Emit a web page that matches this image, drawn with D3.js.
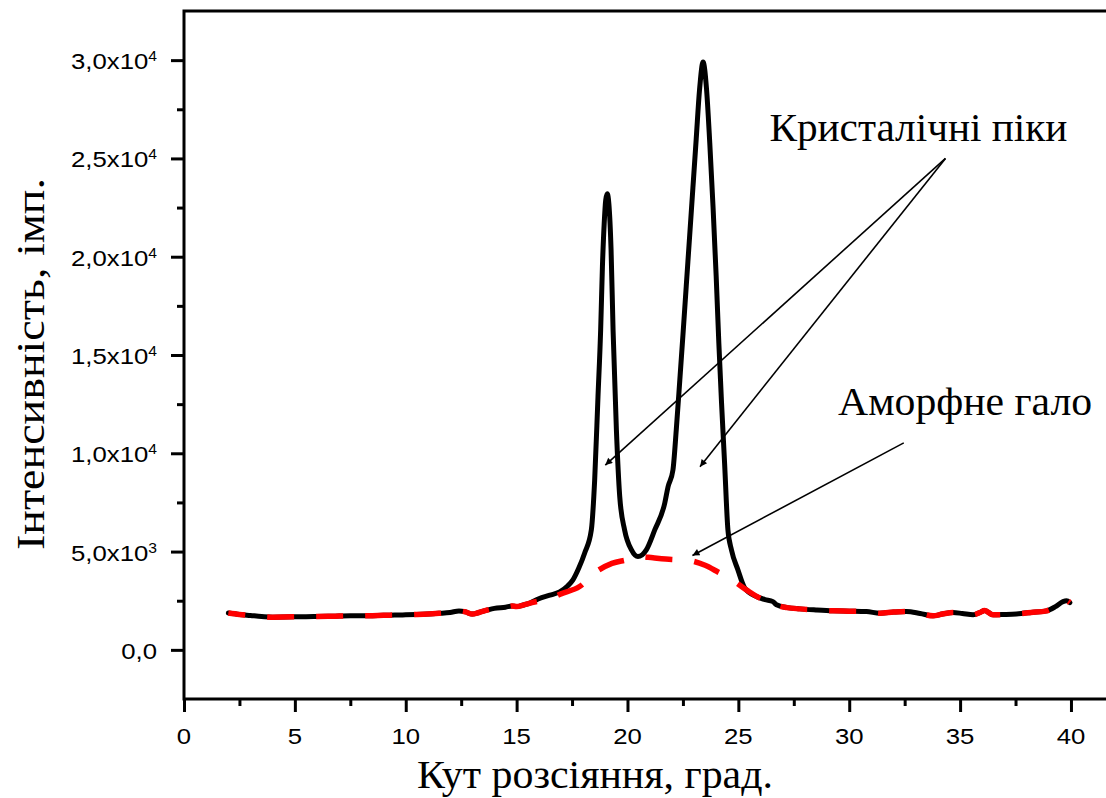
<!DOCTYPE html>
<html>
<head>
<meta charset="utf-8">
<script src="https://cdn.jsdelivr.net/npm/d3@7"></script>
<style>
  html, body { margin: 0; padding: 0; background: #fff; }
  svg { display: block; }
</style>
</head>
<body>
<svg id="chart" width="1106" height="798"></svg>
<script>
// Measured diffraction pattern (scattering angle, degrees -> intensity, counts)
const angle = [
  2.0, 2.5, 3.0, 3.5, 4.0, 4.5, 5.0, 5.5, 6.0, 6.5, 7.0, 7.5, 8.0, 8.5, 9.0, 9.5,
  10.0, 10.5, 11.0, 11.5, 12.0, 12.4, 12.7, 13.0, 13.3, 13.7, 14.0, 14.5, 14.8, 15.0,
  15.3, 15.6, 16.0, 16.5, 16.94, 17.3, 17.54, 17.8, 18.07, 18.37, 18.52, 18.67, 18.79,
  18.87, 18.95, 19.02, 19.09, 19.16, 19.26, 19.35, 19.5, 19.65, 19.87, 20.18, 20.47,
  20.85, 21.23, 21.68, 21.83, 22.05, 22.2, 22.36, 22.5, 22.65, 22.8, 22.95, 23.1,
  23.25, 23.41, 23.56, 23.71, 23.86, 24.0, 24.12, 24.24, 24.38, 24.53, 24.69, 24.98,
  25.29, 25.81, 26.2, 26.56, 26.72, 27.2, 27.77, 28.5, 29.27, 30.0, 30.78, 31.38, 32.0,
  32.58, 33.2, 33.78, 34.2, 34.68, 35.1, 35.59, 35.9, 36.11, 36.49, 37.0, 37.54, 38.2,
  38.9, 39.3, 39.64, 39.8, 39.95
];
const intensity = [
  1870, 1800, 1750, 1700, 1665, 1670, 1680, 1690, 1700, 1705, 1720, 1730, 1730, 1740, 1760, 1770,
  1780, 1800, 1830, 1860, 1900, 1980, 1930, 1820, 1900, 2030, 2110, 2170, 2230, 2200,
  2280, 2380, 2600, 2780, 2950, 3250, 3560, 4150, 4930, 6100, 8640, 12880, 16270,
  19500, 21700, 22900, 23200, 22700, 20340, 16270, 11190, 7800, 6100, 5085, 4745,
  5085, 6100, 7460, 8300, 9150, 11190, 13730, 16000, 18500, 21000, 23500, 26000,
  28500, 29900, 28600, 25800, 22500, 19000, 15600, 12600, 9490, 6100, 5085, 4070,
  3140, 2710, 2560, 2455, 2290, 2150, 2085, 2030, 1985, 1970, 1950, 1865, 1920,
  1950, 1850, 1730, 1820, 1900, 1850, 1780, 1900, 2000, 1780, 1800, 1830, 1900,
  1985, 2200, 2455, 2500, 2405
];

// Amorphous halo (background without the crystalline reflections)
const haloAngle = [
  2.0, 2.5, 3.0, 3.5, 4.0, 4.5, 5.0, 5.5, 6.0, 6.5, 7.0, 7.5, 8.0, 8.5, 9.0, 9.5,
  10.0, 10.5, 11.0, 11.5, 12.0, 12.4, 12.7, 13.0, 13.3, 13.7, 14.0, 14.5, 14.8, 15.0,
  15.3, 15.6, 16.0, 16.34, 17.0, 17.84, 18.6, 19.3, 19.95, 20.55, 21.15, 22.0, 22.6,
  23.5, 24.1, 24.61, 25.36, 26.0, 26.56, 26.72, 27.2, 27.77, 28.5, 29.27, 30.0, 30.78,
  31.38, 32.0, 32.58, 33.2, 33.78, 34.2, 34.68, 35.1, 35.59, 35.9, 36.11, 36.49, 37.0,
  37.54, 38.2, 38.9, 39.3, 39.64, 39.8, 39.95
];
const haloIntensity = [
  1870, 1800, 1750, 1700, 1665, 1670, 1680, 1690, 1700, 1705, 1720, 1730, 1730, 1740, 1760, 1770,
  1780, 1800, 1830, 1860, 1900, 1980, 1930, 1820, 1900, 2030, 2110, 2170, 2230, 2200,
  2280, 2380, 2480, 2540, 2850, 3220, 3980, 4400, 4575, 4745, 4680, 4600, 4575,
  4300, 3950, 3645, 3050, 2620, 2455, 2290, 2150, 2085, 2030, 1985, 1970, 1950,
  1865, 1920, 1950, 1850, 1730, 1820, 1900, 1850, 1780, 1900, 2000, 1780, 1800,
  1830, 1900, 1985, 2200, 2455, 2500, 2405
];

// Axis ticks
const xTickValues = [0, 5, 10, 15, 20, 25, 30, 35, 40];
const xMinorValues = [2.5, 7.5, 12.5, 17.5, 22.5, 27.5, 32.5, 37.5];
const yTickValues = [0, 5000, 10000, 15000, 20000, 25000, 30000];
const yTickMantissa = ["0,0", "5,0x10", "1,0x10", "1,5x10", "2,0x10", "2,5x10", "3,0x10"];
const yTickExponent = ["", "3", "4", "4", "4", "4", "4"];
const yMinorValues = [2500, 7500, 12500, 17500, 22500, 27500];

// Annotations: label text with its anchor, and arrows (data coordinates)
const labelTexts = ["Кристалічні піки", "Аморфне гало"];
const labelAnchors = [[26.4, 25900], [29.5, 11950]];
const arrowStarts = [[34.34, 25000], [34.34, 25000], [32.46, 10530]];
const arrowEnds = [[19.0, 9400], [23.27, 9320], [22.93, 4800]];

const xTitle = "Кут розсіяння, град.";
const yTitle = "Інтенсивність, імп.";

const svg = d3.select("#chart");
const plot = { left: 184, right: 1106, top: 11, bottom: 699 };

const x = d3.scaleLinear().domain([0, 41.58]).range([plot.left, plot.right]);
const y = d3.scaleLinear().domain([-2500, 32500]).range([plot.bottom, plot.top]);

const sans = "'Liberation Sans', Arial, sans-serif";
const serif = "'Liberation Serif', 'Times New Roman', serif";
const stretch = 1.12;

// Curves
const line = d3.line().x(d => x(d[0])).y(d => y(d[1])).curve(d3.curveMonotoneX);
const measured = angle.map((a, i) => [a, intensity[i]]);
const halo = haloAngle.map((a, i) => [a, haloIntensity[i]]);

svg.append("path")
  .datum(measured)
  .attr("d", line)
  .attr("fill", "none")
  .attr("stroke", "#000")
  .attr("stroke-width", 5)
  .attr("stroke-linejoin", "round")
  .attr("stroke-linecap", "round");

svg.append("path")
  .datum(halo)
  .attr("d", line)
  .attr("fill", "none")
  .attr("stroke", "#ff0000")
  .attr("stroke-width", 5.5)
  .attr("stroke-dasharray", "27,22")
  .attr("stroke-dashoffset", 10);

// Axes
const axisG = svg.append("g");

const xAxis = d3.axisBottom(x).tickValues(xTickValues).tickSize(13).tickSizeOuter(0).tickFormat("");
const xMinor = d3.axisBottom(x).tickValues(xMinorValues).tickSize(7).tickSizeOuter(0).tickFormat("");
const yAxis = d3.axisLeft(y).tickValues(yTickValues).tickSize(13).tickSizeOuter(0).tickFormat("");
const yMinor = d3.axisLeft(y).tickValues(yMinorValues).tickSize(7).tickSizeOuter(0).tickFormat("");

function styleAxis(g) {
  g.select(".domain").remove();
  g.selectAll(".tick line").attr("stroke", "#000").attr("stroke-width", 3);
}

axisG.append("g").attr("transform", `translate(0,${plot.bottom})`).call(xAxis).call(styleAxis);
axisG.append("g").attr("transform", `translate(0,${plot.bottom})`).call(xMinor).call(styleAxis);
axisG.append("g").attr("transform", `translate(${plot.left},0)`).call(yAxis).call(styleAxis);
axisG.append("g").attr("transform", `translate(${plot.left},0)`).call(yMinor).call(styleAxis);

// Frame: top edge, left axis and bottom axis
axisG.append("path")
  .attr("d", `M${plot.right},${plot.top}H${plot.left}V${plot.bottom}H${plot.right}`)
  .attr("fill", "none")
  .attr("stroke", "#000")
  .attr("stroke-width", 3)
  .attr("stroke-linejoin", "miter");

// X tick labels
svg.append("g").selectAll("text")
  .data(xTickValues)
  .join("text")
  .attr("transform", d => `translate(${x(d)},744) scale(${stretch},1)`)
  .attr("text-anchor", "middle")
  .attr("font-family", sans)
  .attr("font-size", 23)
  .attr("fill", "#000")
  .text(d => d);

// Y tick labels with power-of-ten exponents
const yLabels = svg.append("g").selectAll("text")
  .data(yTickValues)
  .join("text")
  .attr("transform", d => `translate(157,${y(d) + 9}) scale(${stretch},1)`)
  .attr("text-anchor", "end")
  .attr("font-family", sans)
  .attr("font-size", 23)
  .attr("fill", "#000");
yLabels.append("tspan").text((d, i) => yTickMantissa[i]);
yLabels.append("tspan")
  .attr("font-size", 14)
  .attr("dy", -8)
  .text((d, i) => yTickExponent[i]);

// Axis titles
svg.append("text")
  .attr("x", 595)
  .attr("y", 788)
  .attr("text-anchor", "middle")
  .attr("font-family", serif)
  .attr("font-size", 39)
  .attr("textLength", 356)
  .attr("lengthAdjust", "spacingAndGlyphs")
  .attr("fill", "#000")
  .text(xTitle);

svg.append("text")
  .attr("transform", "translate(44,364) rotate(-90)")
  .attr("text-anchor", "middle")
  .attr("font-family", serif)
  .attr("font-size", 40)
  .attr("textLength", 372)
  .attr("lengthAdjust", "spacingAndGlyphs")
  .attr("fill", "#000")
  .text(yTitle);

// Arrow annotations
svg.append("defs").append("marker")
  .attr("id", "arrowhead")
  .attr("viewBox", "0 0 10 10")
  .attr("refX", 10)
  .attr("refY", 5)
  .attr("markerWidth", 11)
  .attr("markerHeight", 7)
  .attr("markerUnits", "userSpaceOnUse")
  .attr("orient", "auto")
  .append("path")
  .attr("d", "M0,0L10,5L0,10Z")
  .attr("fill", "#000");

svg.append("g").selectAll("line")
  .data(arrowStarts)
  .join("line")
  .attr("x1", d => x(d[0]))
  .attr("y1", d => y(d[1]))
  .attr("x2", (d, i) => x(arrowEnds[i][0]))
  .attr("y2", (d, i) => y(arrowEnds[i][1]))
  .attr("stroke", "#000")
  .attr("stroke-width", 1.6)
  .attr("marker-end", "url(#arrowhead)");

const labelWidths = [298, 254];
svg.append("g").selectAll("text")
  .data(labelTexts)
  .join("text")
  .attr("x", (d, i) => x(labelAnchors[i][0]))
  .attr("y", (d, i) => y(labelAnchors[i][1]))
  .attr("font-family", serif)
  .attr("font-size", 40)
  .attr("textLength", (d, i) => labelWidths[i])
  .attr("lengthAdjust", "spacingAndGlyphs")
  .attr("fill", "#000")
  .text(d => d);
</script>
</body>
</html>
